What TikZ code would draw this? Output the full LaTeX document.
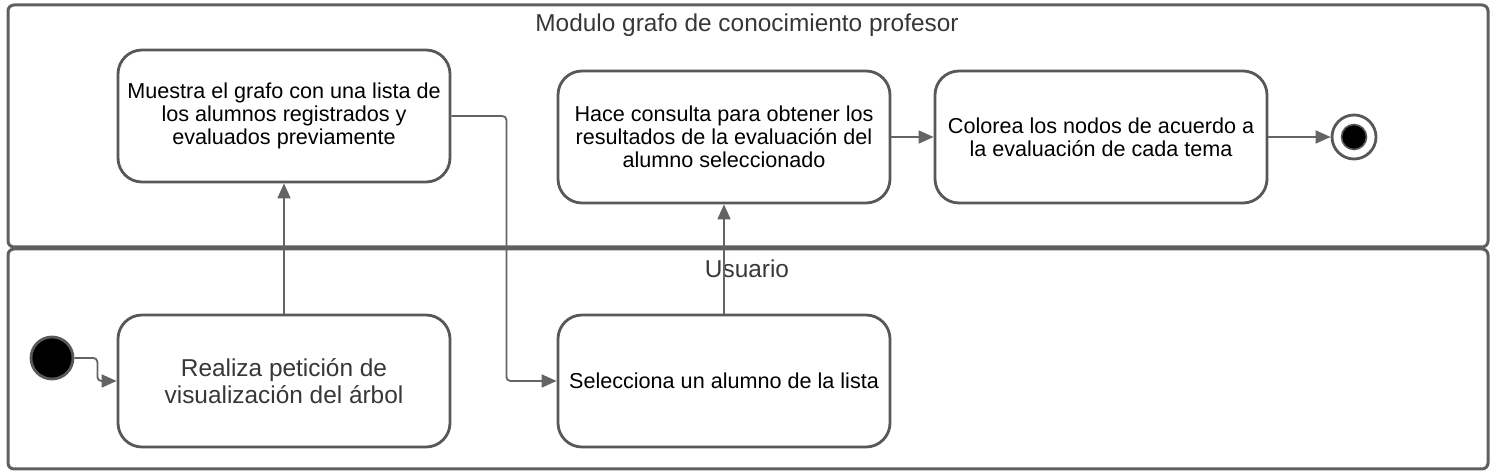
\documentclass[tikz,border=0pt]{standalone}
\usepackage{fontspec}
\setmainfont{Liberation Sans}
\usetikzlibrary{arrows.meta}
\definecolor{laneline}{RGB}{95,95,95}
\definecolor{boxline}{RGB}{88,88,88}
\definecolor{flowgray}{RGB}{100,100,100}
\definecolor{titlegray}{RGB}{55,55,55}

\tikzset{
  action/.style={draw=boxline, line width=1.4pt, rounded corners=12pt, fill=white,
    minimum width=166pt, minimum height=66pt, align=center, inner sep=2pt,
    font=\fontsize{10.8}{11.6}\selectfont},
  flow/.style={draw=flowgray, line width=0.9pt, rounded corners=2pt,
    -{Triangle[length=7.5pt,width=6.5pt]}},
  lanetitle/.style={text=titlegray, font=\fontsize{12.2}{14}\selectfont},
}

\begin{document}
\begin{tikzpicture}[x=0.5pt, y=-0.5pt]
    \useasboundingbox (0,0) rectangle (1492,474);

    % Swimlanes
    \draw[laneline, line width=1.5pt, rounded corners=3pt] (8,5) rectangle (1488,247);
    \draw[laneline, line width=1.5pt, rounded corners=3pt] (8,249) rectangle (1488,469);
    \node[lanetitle] (profesor) at (747,25) {Modulo grafo de conocimiento profesor};
    \node[lanetitle] (usuario) at (747,269) {Usuario};

    % Start and end
    \node[circle, fill=black, draw=boxline, line width=1.4pt, minimum size=21pt, inner sep=0pt] (start) at (52,358) {};
    \node[circle, fill=white, draw=boxline, line width=1.4pt, minimum size=22pt, inner sep=0pt] (final) at (1354,137) {};
    \fill[black, draw=boxline, line width=0.8pt] (final.center) circle (12.5);

    % Actions
    \node[action, font=\fontsize{12.2}{13.4}\selectfont, text=titlegray] (peticion) at (284,381) {Realiza petición de\\visualización del árbol};
    \node[action] (muestra) at (284,116) {Muestra el grafo con una lista de\\los alumnos registrados y\\evaluados previamente};
    \node[action] (selecciona) at (724,381) {Selecciona un alumno de la lista};
    \node[action] (consulta) at (724,137) {Hace consulta para obtener los\\resultados de la evaluación del\\alumno seleccionado};
    \node[action] (colorea) at (1101,137) {Colorea los nodos de acuerdo a\\la evaluación de cada tema};

    % Flow
    \draw[flow] (start.east) -- ++(23,0) |- (peticion.west);
    \draw[flow] (peticion.north) -- (muestra.south);
    \draw[flow] (muestra.east) -- ++(55,0) |- (selecciona.west);
    \draw[flow] (selecciona.north) -- (consulta.south);
    \draw[flow] (consulta.east) -- (colorea.west);
    \draw[flow] (colorea.east) -- (final.west);
\end{tikzpicture}
\end{document}
